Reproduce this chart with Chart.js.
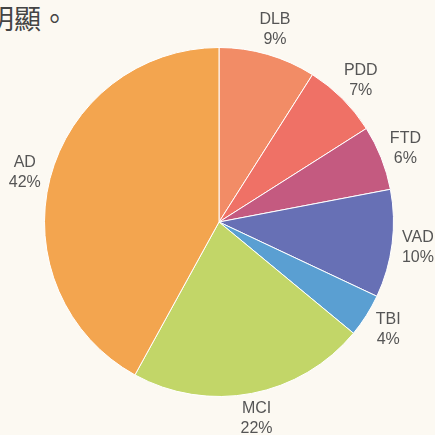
<!DOCTYPE html>
<html>
<head>
<meta charset="utf-8">
<script src="https://cdn.jsdelivr.net/npm/chart.js@4"></script>
<style>
  html, body { margin: 0; padding: 0; background: #fcf9f2; }
  #wrap { position: relative; width: 435px; height: 435px; overflow: hidden; }
  #caption {
    position: absolute; left: -13px; top: 0px;
    font-family: "Noto Sans CJK TC", sans-serif; font-size: 27px; color: #444;
    white-space: nowrap; line-height: 36px;
  }
  canvas { position: absolute; left: 0; top: 0; }
</style>
</head>
<body>
<div id="wrap">
  <div id="caption">明顯。</div>
  <canvas id="pie" width="435" height="435"></canvas>
</div>
<script>
// 病因別の割合
var categories = ['DLB', 'PDD', 'FTD', 'VAD', 'TBI', 'MCI', 'AD'];
var percents = [9, 7, 6, 10, 4, 22, 42];
var sliceColors = ['#f28c66', '#ef7166', '#c45a80', '#6770b5', '#5a9fd2', '#c2d668', '#f3a54f'];

/** 円の外側にラベルと割合を描く */
var outsideLabels = {
  id: 'outsideLabels',
  afterDatasetsDraw: function(chart) {
    var ctx = chart.ctx;
    var meta = chart.getDatasetMeta(0);
    ctx.save();
    ctx.font = '16px "Liberation Sans", Arial, sans-serif';
    ctx.fillStyle = '#555';
    ctx.textAlign = 'center';
    ctx.textBaseline = 'middle';
    meta.data.forEach(function(arc, i) {
      var p = arc.getProps(['x', 'y', 'startAngle', 'endAngle', 'outerRadius'], true);
      var mid = (p.startAngle + p.endAngle) / 2;
      var r = p.outerRadius + 26;
      var x = p.x + Math.cos(mid) * r;
      var y = p.y + Math.sin(mid) * r;
      ctx.fillText(categories[i], x, y - 10);
      ctx.fillText(percents[i] + '%', x, y + 10);
    });
    ctx.restore();
  }
};

new Chart(document.getElementById('pie'), {
  type: 'pie',
  data: {
    labels: categories,
    datasets: [{
      data: percents,
      backgroundColor: sliceColors,
      borderColor: '#ffffff',
      borderWidth: 1
    }]
  },
  options: {
    responsive: false,
    animation: false,
    layout: { padding: { left: 44, right: 41, top: 47, bottom: 38 } },
    plugins: {
      legend: { display: false },
      tooltip: { enabled: false }
    }
  },
  plugins: [outsideLabels]
});
</script>
</body>
</html>
